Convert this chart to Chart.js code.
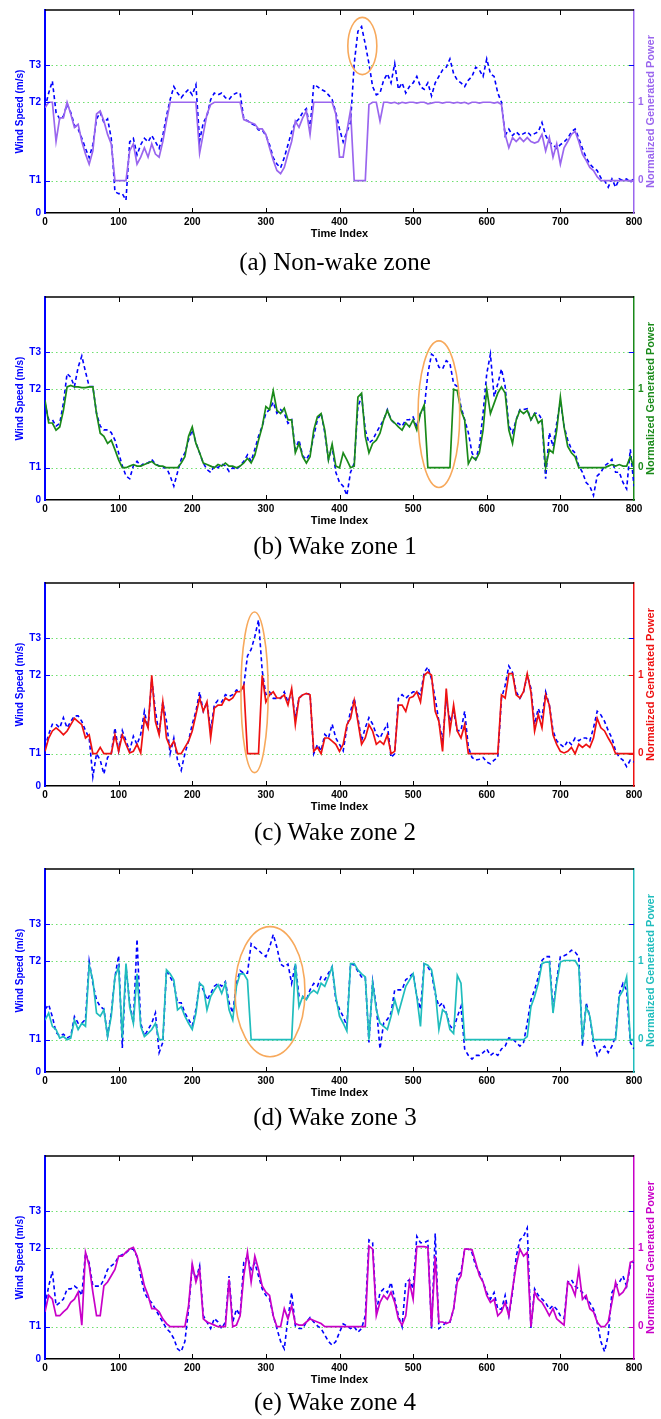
<!DOCTYPE html>
<html>
<head>
<meta charset="utf-8">
<script src="https://cdn.jsdelivr.net/npm/chart.js@4.4.1/dist/chart.umd.min.js"></script>
<style>
  body { margin: 0; background: #fff; width: 661px; height: 1419px; position: relative; overflow: hidden; }
  canvas { position: absolute; left: 0; }
  .cap { position: absolute; left: 0; width: 670px; text-align: center; color: #000;
         font: 25px "Liberation Serif", "Times New Roman", serif; line-height: 25px; }
</style>
</head>
<body>
<canvas id="chartA" width="661" height="250" style="top:0px"></canvas>
<div class="cap" style="top:249px">(a) Non-wake zone</div>
<canvas id="chartB" width="661" height="250" style="top:287px"></canvas>
<div class="cap" style="top:533px">(b) Wake zone 1</div>
<canvas id="chartC" width="661" height="250" style="top:573px"></canvas>
<div class="cap" style="top:819px">(c) Wake zone 2</div>
<canvas id="chartD" width="661" height="250" style="top:859px"></canvas>
<div class="cap" style="top:1104px">(d) Wake zone 3</div>
<canvas id="chartE" width="661" height="250" style="top:1146px"></canvas>
<div class="cap" style="top:1389px">(e) Wake zone 4</div>

<script>
// wind speed thresholds (m/s) and axis setup
const T1 = 3.5, T2 = 12, T3 = 16, SPEED_MAX = 22;
const speedTicks = [0, T1, T2, T3];
const speedTickLabels = ["0", "T1", "T2", "T3"];
const powerTicks = [0, 1];
const timeTicks = [0, 100, 200, 300, 400, 500, 600, 700, 800];
const SAMPLE_STEP = 5; // one reading every 5 time indexes

// power axis lines up 0 with T1 and 1 with T2
const POWER_MIN = (0 - T1) / (T2 - T1);
const POWER_MAX = (SPEED_MAX - T1) / (T2 - T1);

// (a) Non-wake zone
const windA = [
  11.4,13.0,14.3,10.9,10.2,10.5,11.8,10.9,9.5,9.1,
  8.1,7.0,6.0,7.4,10.2,10.9,9.8,10.2,8.1,2.3,
  2.1,2.1,1.4,7.7,8.1,6.3,7.4,8.1,7.7,8.4,
  7.7,7.0,8.4,10.5,12.3,13.7,13.0,12.5,13.0,13.4,
  12.8,13.9,7.8,9.8,10.5,12.3,13.0,12.8,13.0,12.5,
  12.3,12.8,13.0,13.0,10.2,10.0,9.7,9.5,9.0,9.0,
  8.4,7.4,6.0,5.3,4.9,6.0,7.4,8.8,9.8,10.2,
  10.9,11.3,9.1,13.9,13.7,13.4,13.2,12.8,12.3,10.9,
  9.1,7.7,8.8,9.8,16.2,19.7,20.2,18.3,16.2,13.7,
  12.8,13.0,14.4,15.1,14.1,16.2,13.4,14.1,13.0,13.7,
  14.1,14.8,13.7,13.4,14.1,12.7,14.1,14.8,15.5,15.8,
  16.7,15.1,14.4,14.1,13.7,14.4,14.8,15.8,15.5,14.8,
  16.7,15.1,14.8,13.0,12.0,8.4,9.1,8.4,8.8,8.4,
  8.6,8.8,8.4,8.6,8.8,9.8,8.4,7.7,7.4,7.0,
  7.4,7.7,8.1,8.8,9.1,8.1,7.0,6.0,5.3,4.9,
  4.6,3.8,3.5,2.8,3.7,2.8,3.7,3.5,3.7,3.3,
  3.8
];
const powerA = [
  0.93,1.0,1.0,0.5,0.8,0.8,1.0,0.85,0.68,0.72,
  0.5,0.34,0.21,0.38,0.85,0.89,0.76,0.59,0.47,0,
  0,0,0,0.38,0.47,0.21,0.3,0.42,0.3,0.47,
  0.34,0.3,0.5,0.76,1.0,1.0,1.0,1.0,1.0,1.0,
  1.0,1.0,0.35,0.6,0.85,0.97,1.0,1.0,1.0,1.0,
  1.0,1.0,1.0,1.0,0.78,0.76,0.74,0.72,0.66,0.66,
  0.59,0.42,0.26,0.13,0.09,0.17,0.34,0.5,0.76,0.68,
  0.8,0.89,0.59,1.0,1.0,1.0,1.0,1.0,1.0,0.85,
  0.3,0.3,0.63,0.9,0,0,0,0,0.97,1.0,
  1.0,0.76,1.0,1.0,0.99,1.0,0.98,1.0,0.99,1.0,
  1.0,0.99,1.0,1.0,0.98,0.99,1.0,1.0,0.99,1.0,
  1.0,0.99,1.0,0.99,1.0,0.98,1.0,1.0,0.99,1.0,
  1.0,1.0,0.99,1.0,0.97,0.59,0.42,0.55,0.5,0.55,
  0.5,0.55,0.5,0.48,0.5,0.59,0.38,0.55,0.3,0.47,
  0.21,0.42,0.5,0.59,0.63,0.5,0.34,0.26,0.17,0.13,
  0.05,0,0,0,0,0,0,0,0,0,
  0
];

// (b) Wake zone 1
const windB = [
  10.5,8.7,8.7,8.0,8.3,10.5,13.7,13.3,12.3,14.4,
  15.6,13.9,12.3,12.3,9.4,8.0,7.6,7.6,7.3,6.5,
  5.1,3.7,2.6,2.3,3.7,4.2,3.7,4.0,4.0,4.4,
  3.9,3.7,3.5,3.5,2.6,1.5,3.0,4.4,5.1,6.5,
  7.6,6.2,5.1,4.0,3.3,3.0,3.7,3.5,3.9,3.7,
  3.1,3.5,3.3,3.7,4.2,4.9,4.2,5.5,6.9,8.0,
  9.4,9.8,10.6,9.4,9.8,9.4,8.3,8.7,5.5,6.5,
  4.8,4.4,5.1,6.9,8.7,9.4,7.3,4.4,5.8,3.0,
  1.9,1.5,0.5,3.0,4.0,10.1,11.2,7.6,6.2,6.5,
  7.3,8.0,8.7,9.8,8.7,8.3,8.3,8.0,8.7,8.7,
  9.0,8.0,9.4,9.8,13.7,15.8,15.5,14.4,14.2,15.1,
  14.8,12.6,12.3,10.1,8.7,7.3,5.1,4.4,5.8,9.4,
  13.7,15.8,11.2,12.6,14.2,12.3,8.0,7.3,8.7,9.8,
  9.8,9.9,8.7,9.4,9.4,8.7,2.3,7.3,5.8,8.3,
  10.8,8.0,6.5,5.5,5.1,3.7,3.0,1.9,1.5,0.5,
  2.6,3.0,3.7,4.0,4.4,3.0,3.0,1.9,1.2,5.5,
  1.5
];
const powerB = [
  0.86,0.57,0.57,0.48,0.52,0.73,1.03,1.05,1.03,1.03,
  1.02,1.02,1.03,1.03,0.69,0.44,0.4,0.31,0.35,0.23,
  0.1,0,0,0.02,0.04,0.02,0.02,0.04,0.06,0.08,
  0.04,0.02,0.02,0,0,0,0,0.06,0.14,0.4,
  0.52,0.31,0.19,0.06,0.04,0.02,0,0.04,0.02,0.06,
  0.02,0.02,0,0.02,0.06,0.12,0.06,0.16,0.35,0.52,
  0.78,0.74,0.98,0.73,0.69,0.76,0.61,0.61,0.19,0.31,
  0.14,0.06,0.14,0.48,0.65,0.69,0.48,0.1,0.3,0.02,
  0,0.19,0.1,0,0.02,0.9,0.95,0.4,0.19,0.31,
  0.35,0.44,0.61,0.73,0.61,0.57,0.52,0.48,0.57,0.52,
  0.61,0.48,0.69,0.8,0,0,0,0,0,0,
  0,1.0,0.98,0.73,0.61,0.05,0.14,0.1,0.19,0.48,
  1.0,0.69,0.82,0.95,1.03,0.95,0.48,0.31,0.61,0.73,
  0.69,0.73,0.61,0.69,0.57,0.61,0,0.23,0.19,0.48,
  0.9,0.52,0.27,0.19,0.14,0,0,0,0,0,
  0,0,0,0.02,0.04,0.02,0.04,0.02,0.02,0.14,
  0
];

// (c) Wake zone 2
const windC = [
  4.2,5.6,6.7,6.7,6.3,7.4,6.3,7.0,7.6,7.6,
  7.0,6.0,5.2,1.0,3.5,2.8,1.3,3.1,3.5,6.3,
  3.8,6.0,4.9,3.8,5.4,4.5,5.6,8.1,6.3,11.6,
  8.1,5.6,9.1,7.0,3.5,5.2,2.8,1.7,3.5,4.9,
  6.7,8.1,10.2,8.1,9.1,6.0,8.8,9.3,9.1,9.9,
  9.7,9.9,10.4,10.2,10.9,14.1,14.8,16.2,18.0,12.5,
  9.9,10.2,9.5,9.5,9.5,10.2,9.1,10.2,7.4,9.5,
  9.9,10.0,10.0,3.5,4.5,3.8,5.6,5.2,6.7,5.2,
  4.5,3.8,6.3,8.1,9.5,7.4,4.9,6.3,7.4,6.7,
  5.6,5.2,6.0,6.7,3.1,3.5,9.5,9.9,9.5,9.9,
  10.2,10.2,9.9,12.3,12.9,11.6,9.5,7.0,4.9,9.5,
  7.0,8.1,6.0,6.0,8.1,4.2,3.1,2.8,2.9,3.1,
  2.6,2.4,2.8,3.1,9.5,10.9,13.0,12.3,10.2,9.5,
  10.2,12.0,10.6,6.7,8.4,7.4,10.2,8.8,6.0,4.9,
  4.5,4.2,4.9,4.5,5.2,4.9,5.2,5.2,4.9,6.3,
  8.1,7.7,7.0,6.0,5.2,3.8,3.1,2.8,2.1,2.8,
  2.6
];
const powerC = [
  0.03,0.2,0.29,0.33,0.29,0.24,0.29,0.37,0.45,0.41,
  0.37,0.2,0.24,0,0,0.08,0,0,0,0.24,
  0.03,0.24,0.12,0.01,0.03,0.12,0.01,0.45,0.33,1.0,
  0.41,0.24,0.66,0.2,0.08,0.16,0,0,0.08,0.16,
  0.29,0.5,0.71,0.54,0.66,0.2,0.58,0.62,0.62,0.71,
  0.68,0.71,0.79,0.79,0.87,0,0,0,0,1.0,
  0.66,0.75,0.79,0.71,0.71,0.75,0.62,0.83,0.37,0.71,
  0.75,0.77,0.75,0.03,0.08,0,0.2,0.2,0.16,0.12,
  0.03,0.12,0.37,0.45,0.68,0.41,0.12,0.2,0.37,0.29,
  0.12,0.16,0.12,0.24,0,0.03,0.62,0.62,0.54,0.71,
  0.73,0.79,0.66,1.0,1.04,1.0,0.54,0.41,0.03,0.83,
  0.29,0.62,0.29,0.2,0.37,0,0,0,0,0,
  0,0,0,0,0.75,0.71,1.02,1.02,0.75,0.71,
  0.79,1.02,0.79,0.29,0.5,0.33,0.75,0.62,0.24,0.12,
  0.03,0.01,0.03,0.08,0,0.12,0.08,0.12,0.08,0.2,
  0.45,0.33,0.29,0.2,0.12,0,0,0,0,0,
  0
];

// (d) Wake zone 3
const windD = [
  6.8,7.3,6.0,4.3,3.9,4.1,3.7,3.9,6.0,5.3,
  5.3,5.7,12.0,9.6,7.8,7.1,6.8,3.9,6.4,10.3,
  12.6,2.6,11.4,7.5,5.3,14.4,5.3,3.9,4.6,5.3,
  6.4,2.1,3.2,11.0,10.3,9.6,7.5,7.5,6.4,5.7,
  5.0,6.8,9.6,8.9,7.8,8.5,9.3,9.6,9.3,9.8,
  7.5,6.4,9.6,11.0,10.7,10.7,13.9,13.5,13.2,12.8,
  12.5,13.5,14.9,13.5,11.7,11.4,11.7,9.6,11.7,8.2,
  8.2,7.8,8.9,9.6,9.3,10.3,10.0,10.7,11.4,7.8,
  6.8,6.0,5.0,11.7,11.6,10.9,10.3,10.3,3.2,9.8,
  7.1,2.5,5.3,5.7,6.4,8.9,8.9,8.9,10.0,10.3,
  10.7,8.2,6.8,11.7,11.4,10.7,8.5,7.1,7.5,6.4,
  5.0,4.6,6.0,7.1,2.5,1.8,1.4,1.8,1.8,2.1,
  2.5,1.8,2.1,1.8,2.5,2.8,3.7,3.6,3.2,2.8,
  3.2,5.3,7.8,8.9,10.3,12.1,12.5,12.5,6.8,10.0,
  12.5,12.6,12.8,13.2,13.0,12.5,2.8,7.5,6.0,3.2,
  1.8,2.5,2.8,2.1,2.8,3.9,8.5,9.6,8.9,3.2,
  2.5
];
const powerD = [
  0.25,0.34,0.17,0.13,0.02,0.04,0,0.02,0.25,0.13,
  0.21,0.17,0.95,0.76,0.34,0.3,0.38,0.04,0.3,0.8,
  0.93,0.02,0.97,0.42,0.21,0.84,0.17,0.04,0.08,0.13,
  0.21,0,0,0.89,0.84,0.76,0.38,0.42,0.3,0.21,
  0.13,0.34,0.72,0.68,0.38,0.55,0.63,0.7,0.59,0.72,
  0.38,0.25,0.68,0.84,0.84,0.76,0,0,0,0,
  0,0,0,0,0,0,0,0,0.97,0.42,
  0.55,0.51,0.59,0.63,0.59,0.72,0.68,0.8,0.93,0.55,
  0.3,0.21,0.11,0.97,0.97,0.89,0.84,0.8,0,0.72,
  0.38,0.21,0.17,0.13,0.3,0.51,0.34,0.51,0.68,0.76,
  0.84,0.55,0.17,0.97,0.95,0.89,0.63,0.13,0.38,0.34,
  0.13,0.08,0.82,0.72,0,0,0,0,0,0,
  0,0,0,0,0,0,0,0,0,0,
  0,0.04,0.42,0.55,0.72,0.97,0.99,0.99,0.34,0.72,
  0.99,1.01,1.01,1.01,1.01,0.93,0,0.42,0.3,0,
  0,0,0,0,0,0,0.55,0.63,0.8,0,
  0
];

// (e) Wake zone 4
const windE = [
  5.8,7.9,9.5,5.8,6.1,6.5,7.6,7.6,7.9,7.6,
  6.9,11.5,10.4,7.9,7.9,7.9,8.6,9.7,10.1,10.4,
  11.1,11.3,11.5,11.9,11.9,11.1,9.0,7.2,6.5,6.1,
  5.4,4.7,4.0,3.3,2.9,2.2,1.1,0.8,1.9,5.4,
  10.0,8.6,10.1,4.7,4.0,3.3,4.4,4.0,3.3,4.0,
  9.0,4.0,5.4,4.7,10.5,11.1,9.7,10.4,9.0,7.6,
  6.9,6.5,4.7,3.3,1.9,1.1,4.4,7.2,3.6,3.3,
  3.3,4.0,4.5,4.0,3.6,3.3,2.6,1.9,1.5,1.9,
  2.9,3.8,3.6,3.3,3.5,2.9,3.3,4.7,12.9,12.6,
  5.1,7.2,7.6,7.2,8.3,6.5,4.7,3.5,8.3,8.6,
  7.6,13.3,12.6,12.6,12.8,3.3,13.6,3.3,3.6,4.0,
  4.0,5.4,9.0,9.4,11.9,11.9,11.5,10.1,9.4,8.3,
  7.2,6.5,7.2,5.4,5.4,6.9,4.7,7.2,11.1,12.9,
  13.3,14.2,3.3,7.6,6.9,6.5,6.1,5.4,5.8,5.4,
  4.7,4.4,8.3,8.6,7.9,7.6,7.2,6.5,6.1,5.4,
  4.0,1.9,0.8,2.6,7.2,7.9,8.3,9.0,7.9,10.1,
  10.6
];
const powerE = [
  0.19,0.4,0.35,0.14,0.14,0.19,0.23,0.31,0.35,0.44,
  0.02,0.95,0.78,0.44,0.14,0.14,0.52,0.57,0.65,0.73,
  0.9,0.9,0.95,0.99,1.01,0.9,0.73,0.52,0.4,0.23,
  0.23,0.19,0.1,0.04,0,0,0,0,0,0.27,
  0.8,0.57,0.73,0.1,0.06,0.04,0.02,0,0,0,
  0.6,0,0.02,0.14,0.65,0.95,0.57,0.9,0.73,0.52,
  0.44,0.4,0.14,0,0,0.23,0.1,0.27,0.04,0.02,
  0.02,0.06,0.1,0.08,0.06,0.04,0,0,0,0,
  0,0,0,0,0,0,0,0,1.03,0.99,
  0.14,0.31,0.4,0.35,0.44,0.31,0.1,0.02,0.14,0.57,
  0.35,1.02,1.02,1.02,1.01,0,0.9,0.06,0.06,0.04,
  0.06,0.23,0.57,0.65,0.99,0.99,0.98,0.82,0.65,0.57,
  0.4,0.31,0.35,0.14,0.19,0.31,0.14,0.48,0.78,0.99,
  0.9,0.95,0,0.44,0.35,0.31,0.23,0.14,0.23,0.1,
  0.06,0.02,0.57,0.52,0.4,0.73,0.35,0.4,0.23,0.19,
  0.06,0,0,0.06,0.31,0.57,0.4,0.44,0.52,0.82,
  0.84
];

// circled regions (time index, wind speed, radii in the same units)
const ellipseA = { time: 431, speed: 18.1, timeRadius: 19.7, speedRadius: 3.1 };
const ellipseB = { time: 535, speed: 9.3, timeRadius: 28.3, speedRadius: 7.95 };
const ellipseC = { time: 284.6, speed: 10.15, timeRadius: 18.5, speedRadius: 8.7 };
const ellipseD = { time: 305.6, speed: 8.7, timeRadius: 47.5, speedRadius: 7.05 };

const WIND_COLOR = "#0000ff";
const GRID_GREEN = "#6ee06e";
const ELLIPSE_COLOR = "#f7a95c";
const FONT = "'Liberation Sans', Arial, sans-serif";

Chart.defaults.font.family = FONT;

// grid lines, inside tick marks, axis titles and the circled region
function panelDecor(powerColor, ellipse) {
  return {
    id: "panelDecor",
    beforeDatasetsDraw(chart) {
      const { ctx, chartArea: a, scales } = chart;
      ctx.save();
      ctx.strokeStyle = GRID_GREEN;
      ctx.lineWidth = 1.2;
      ctx.setLineDash([1.5, 3]);
      speedTicks.forEach((v) => {
        if (v === 0) return;
        const py = Math.round(scales.y.getPixelForValue(v)) + 0.5;
        ctx.beginPath();
        ctx.moveTo(a.left + 2, py);
        ctx.lineTo(a.right - 2, py);
        ctx.stroke();
      });
      ctx.restore();
    },
    afterDraw(chart) {
      const { ctx, chartArea: a, scales } = chart;
      ctx.save();

      // top border
      ctx.strokeStyle = "#000";
      ctx.lineWidth = 1.5;
      ctx.beginPath();
      ctx.moveTo(a.left, a.top);
      ctx.lineTo(a.right, a.top);
      ctx.stroke();

      // inside ticks on the time axis (bottom and top)
      ctx.lineWidth = 1;
      timeTicks.forEach((t) => {
        if (t === 0 || t === 800) return;
        const px = Math.round(scales.x.getPixelForValue(t)) + 0.5;
        ctx.beginPath();
        ctx.moveTo(px, a.bottom);
        ctx.lineTo(px, a.bottom - 5);
        ctx.moveTo(px, a.top);
        ctx.lineTo(px, a.top + 5);
        ctx.stroke();
      });

      // inside ticks on the two vertical axes
      speedTicks.forEach((v) => {
        if (v === 0) return;
        const py = Math.round(scales.y.getPixelForValue(v)) + 0.5;
        ctx.strokeStyle = WIND_COLOR;
        ctx.beginPath();
        ctx.moveTo(a.left, py);
        ctx.lineTo(a.left + 5, py);
        ctx.stroke();
        ctx.strokeStyle = v === T3 ? WIND_COLOR : powerColor;
        ctx.beginPath();
        ctx.moveTo(a.right, py);
        ctx.lineTo(a.right - 5, py);
        ctx.stroke();
      });

      // circled region
      if (ellipse) {
        const cx = scales.x.getPixelForValue(ellipse.time);
        const cy = scales.y.getPixelForValue(ellipse.speed);
        const rx = scales.x.getPixelForValue(ellipse.time + ellipse.timeRadius) - cx;
        const ry = cy - scales.y.getPixelForValue(ellipse.speed + ellipse.speedRadius);
        ctx.strokeStyle = ELLIPSE_COLOR;
        ctx.lineWidth = 1.6;
        ctx.beginPath();
        ctx.ellipse(cx, cy, rx, ry, 0, 0, Math.PI * 2);
        ctx.stroke();
      }

      // axis titles
      const midY = (a.top + a.bottom) / 2;
      ctx.textAlign = "center";
      ctx.textBaseline = "middle";
      ctx.font = "bold 10px " + FONT;
      ctx.fillStyle = WIND_COLOR;
      ctx.save();
      ctx.translate(20, midY);
      ctx.rotate(-Math.PI / 2);
      ctx.fillText("Wind Speed (m/s)", 0, 0);
      ctx.restore();

      ctx.font = "bold 11px " + FONT;
      ctx.fillStyle = powerColor;
      ctx.save();
      ctx.translate(651, midY);
      ctx.rotate(-Math.PI / 2);
      ctx.fillText("Normalized Generated Power", 0, 0);
      ctx.restore();

      ctx.fillStyle = "#000";
      ctx.fillText("Time Index", (a.left + a.right) / 2, a.bottom + 21);
      ctx.restore();
    },
  };
}

function makePanel(canvasId, wind, power, powerColor, ellipse) {
  const windPoints = wind.map((v, i) => ({ x: i * SAMPLE_STEP, y: v }));
  const powerPoints = power.map((v, i) => ({ x: i * SAMPLE_STEP, y: v }));

  return new Chart(document.getElementById(canvasId), {
    type: "line",
    data: {
      datasets: [
        {
          label: "Normalized Generated Power",
          data: powerPoints,
          yAxisID: "y2",
          borderColor: powerColor,
          borderWidth: 1.7,
          pointRadius: 0,
          tension: 0,
          order: 0,
        },
        {
          label: "Wind Speed",
          data: windPoints,
          yAxisID: "y",
          borderColor: WIND_COLOR,
          borderWidth: 1.6,
          borderDash: [4, 3],
          pointRadius: 0,
          tension: 0,
          order: 1,
        },
      ],
    },
    options: {
      responsive: false,
      animation: false,
      devicePixelRatio: 1,
      layout: { padding: { top: 5, left: 0, right: 0, bottom: 0 } },
      plugins: { legend: { display: false }, tooltip: { enabled: false } },
      scales: {
        x: {
          type: "linear",
          min: 0,
          max: 800,
          afterBuildTicks: (s) => { s.ticks = timeTicks.map((v) => ({ value: v })); },
          afterFit: (s) => { s.height = 37; },
          grid: { display: false, drawTicks: false },
          border: { display: true, color: "#000", width: 1.5 },
          ticks: { color: "#000", font: { size: 10, weight: "bold" }, padding: 3, maxRotation: 0, autoSkip: false },
        },
        y: {
          position: "left",
          min: 0,
          max: SPEED_MAX,
          afterBuildTicks: (s) => { s.ticks = speedTicks.map((v) => ({ value: v })); },
          afterFit: (s) => { s.width = 45; },
          grid: { display: false, drawTicks: false },
          border: { display: true, color: WIND_COLOR, width: 2 },
          ticks: {
            color: WIND_COLOR,
            font: { size: 10, weight: "bold" },
            padding: 4,
            autoSkip: false,
            callback: (v) => speedTickLabels[speedTicks.indexOf(v)],
          },
        },
        y2: {
          position: "right",
          min: POWER_MIN,
          max: POWER_MAX,
          afterBuildTicks: (s) => { s.ticks = powerTicks.map((v) => ({ value: v })); },
          afterFit: (s) => { s.width = 27; },
          grid: { display: false, drawTicks: false },
          border: { display: true, color: powerColor, width: 1.5 },
          ticks: { color: powerColor, font: { size: 10, weight: "bold" }, padding: 4, autoSkip: false },
        },
      },
    },
    plugins: [panelDecor(powerColor, ellipse)],
  });
}

makePanel("chartA", windA, powerA, "#9a66ee", ellipseA);
makePanel("chartB", windB, powerB, "#1a8a1a", ellipseB);
makePanel("chartC", windC, powerC, "#ee1111", ellipseC);
makePanel("chartD", windD, powerD, "#20bdbd", ellipseD);
makePanel("chartE", windE, powerE, "#c800c8", null);
</script>
</body>
</html>
